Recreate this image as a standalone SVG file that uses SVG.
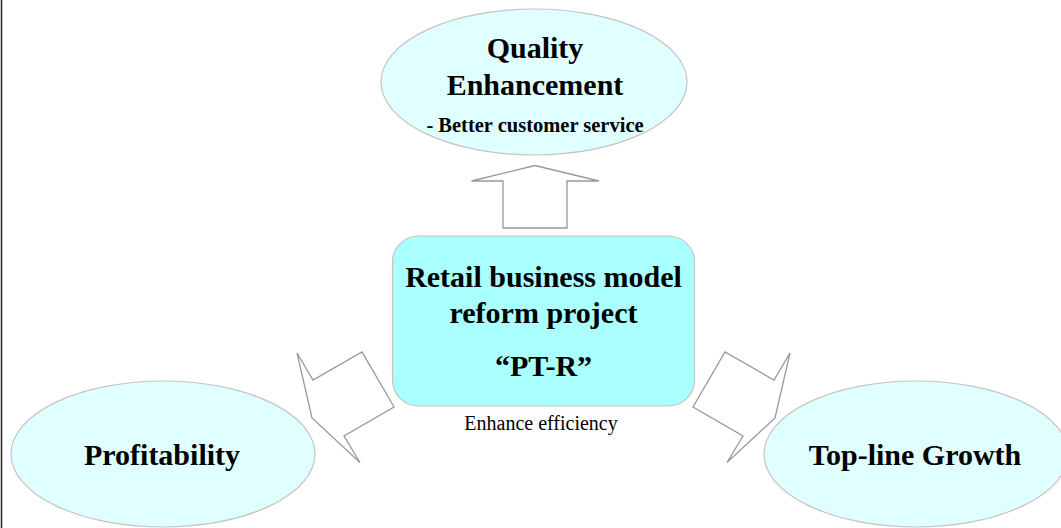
<svg xmlns="http://www.w3.org/2000/svg" width="1061" height="528" viewBox="0 0 1061 528">
  <style>
    .goal { fill: #e0ffff; stroke: #c4c4c4; stroke-width: 1.2; }
    .core { fill: #aaffff; stroke: #c4c4c4; stroke-width: 1.2; }
    .arrow { fill: #ffffff; stroke: #999999; stroke-width: 1.3; stroke-linejoin: miter; }
    .big { font-family: "Liberation Serif", "Times New Roman", serif; font-weight: bold; font-size: 30px; fill: #000; text-anchor: middle; }
    .sub { font-family: "Liberation Serif", "Times New Roman", serif; font-weight: bold; font-size: 20.5px; fill: #000; text-anchor: middle; }
    .note { font-family: "Liberation Serif", "Times New Roman", serif; font-size: 20px; fill: #000; text-anchor: middle; }
  </style>
  <rect x="0" y="0" width="1061" height="528" fill="#ffffff"/>
  <line x1="1.5" y1="0" x2="1.5" y2="528" stroke="#222" stroke-width="1.5"/>

  <g id="connectors">
    <polygon class="arrow" points="535,165.5 599,181 567,181 567,228 503,228 503,181 471.5,181"/>
    <polygon class="arrow" points="297,353 313,380 362,352 394,407 344,436 360,462.5 312,418"/>
    <polygon class="arrow" points="790,353 774,380 725,352 693,407 743,436 727,462.5 775,418"/>
  </g>

  <g id="quality">
    <ellipse class="goal" cx="534" cy="82" rx="153" ry="73"/>
    <text class="big" x="535" y="58">Quality</text>
    <text class="big" x="535" y="95">Enhancement</text>
    <text class="sub" x="535" y="132">- Better customer service</text>
  </g>

  <g id="project">
    <rect class="core" x="392.5" y="236" width="302" height="170" rx="26" ry="26"/>
    <text class="big" x="543.5" y="287">Retail business model</text>
    <text class="big" x="543.5" y="323">reform project</text>
    <text class="big" x="543.5" y="376">“PT-R”</text>
  </g>

  <g id="efficiency">
    <text class="note" x="541" y="430">Enhance efficiency</text>
  </g>

  <g id="profitability">
    <ellipse class="goal" cx="163" cy="454" rx="152" ry="73"/>
    <text class="big" x="162" y="465">Profitability</text>
  </g>

  <g id="growth">
    <ellipse class="goal" cx="916" cy="454" rx="152" ry="73"/>
    <text class="big" x="915" y="465">Top-line Growth</text>
  </g>
</svg>
